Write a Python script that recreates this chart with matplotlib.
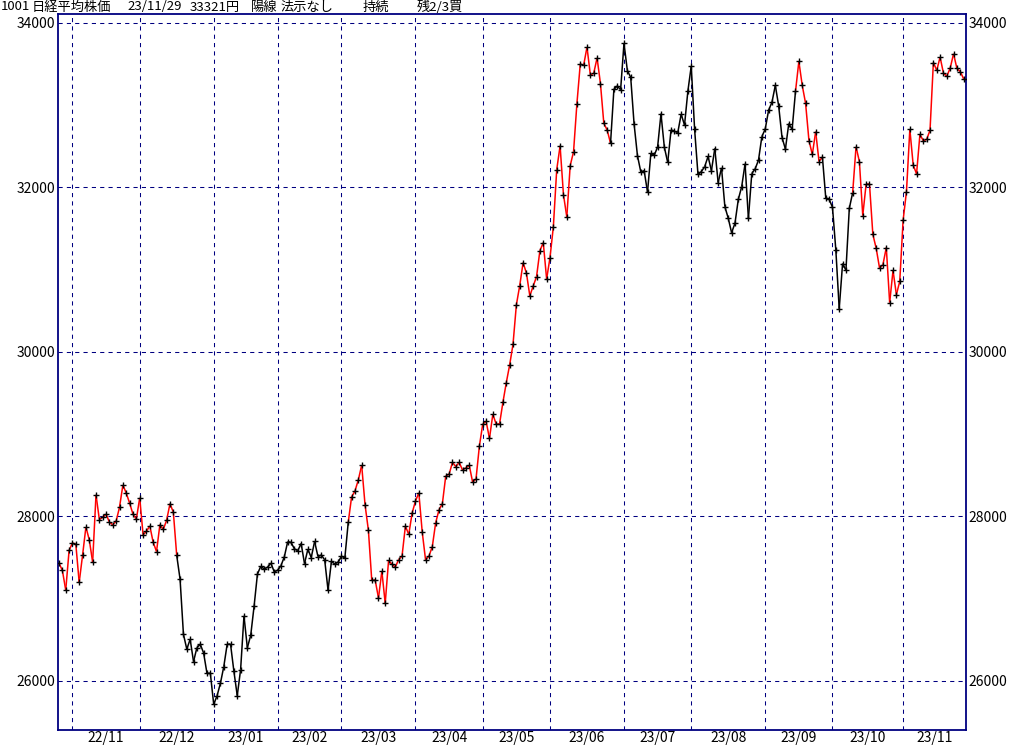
import matplotlib
matplotlib.use('Agg')
import matplotlib.pyplot as plt
import numpy as np
from matplotlib.collections import LineCollection

plt.rcParams['font.family'] = ['Noto Sans CJK JP', 'DejaVu Sans']

NAVY = '#000080'

# trading days per month and month labels (first block = last days of 22/10)
month_labels = ['', '22/11', '22/12', '23/01', '23/02', '23/03', '23/04',
                '23/05', '23/06', '23/07', '23/08', '23/09', '23/10', '23/11']
month_days = [4, 20, 22, 19, 19, 22, 20, 20, 22, 20, 22, 20, 21, 19]

# daily closes
closes = [
    27431, 27345, 27105, 27587,
    # 22/11
    27678, 27663, 27199, 27527, 27872, 27716, 27446, 28263, 27963, 27990,
    28028, 27930, 27899, 27944, 28115, 28383, 28283, 28162, 28027, 27968,
    # 22/12
    28226, 27777, 27820, 27885, 27686, 27574, 27901, 27842, 27954, 28156,
    28051, 27527, 27237, 26568, 26387, 26507, 26235, 26405, 26447, 26340,
    26093, 26094,
    # 23/01
    25717, 25820, 25973, 26175, 26446, 26449, 26119, 25822, 26138, 26791,
    26405, 26553, 26906, 27299, 27395, 27362, 27382, 27433, 27327,
    # 23/02
    27346, 27402, 27509, 27694, 27685, 27606, 27584, 27671, 27427, 27602,
    27501, 27696, 27513, 27531, 27473, 27104, 27453, 27423, 27445,
    # 23/03
    27516, 27498, 27927, 28237, 28309, 28444, 28623, 28143, 27832, 27222,
    27229, 27010, 27333, 26945, 27466, 27419, 27385, 27476, 27518, 27883,
    27782, 28041,
    # 23/04
    28188, 28287, 27813, 27472, 27518, 27633, 27923, 28082, 28156, 28493,
    28514, 28658, 28606, 28657, 28564, 28593, 28620, 28416, 28457, 28856,
    # 23/05
    29123, 29157, 28949, 29242, 29122, 29126, 29388, 29626, 29842, 30093,
    30573, 30808, 31086, 30957, 30682, 30801, 30916, 31233, 31328, 30887,
    # 23/06
    31148, 31524, 32217, 32506, 31913, 31641, 32265, 32434, 33018, 33502,
    33485, 33706, 33370, 33388, 33575, 33264, 32781, 32698, 32538, 33193,
    33234, 33189,
    # 23/07
    33753, 33422, 33338, 32773, 32388, 32189, 32203, 31943, 32419, 32391,
    32493, 32896, 32490, 32304, 32700, 32682, 32668, 32891, 32759, 33172,
    # 23/08
    33476, 32707, 32159, 32192, 32254, 32377, 32204, 32473, 32059, 32238,
    31766, 31626, 31450, 31565, 31856, 32010, 32287, 31624, 32169, 32226,
    32333, 32619,
    # 23/09
    32710, 32939, 33036, 33241, 32991, 32606, 32467, 32776, 32706, 33168,
    33533, 33242, 33023, 32571, 32402, 32678, 32315, 32371, 31872, 31857,
    # 23/10
    31759, 31237, 30526, 31075, 30994, 31746, 31936, 32494, 32315, 31659,
    32040, 32042, 31430, 31259, 31019, 31062, 31269, 30601, 30991, 30697,
    30858,
    # 23/11
    31601, 31950, 32708, 32272, 32166, 32646, 32568, 32585, 32695, 33519,
    33424, 33585, 33388, 33354, 33451, 33625, 33447, 33408, 33321,
]

# day ranges (start, end) where the line is drawn red
red_spans = [(0, 35), (86, 164), (219, 227), (236, 269)]

y_ticks = [26000, 28000, 30000, 32000, 34000]

header = [(1, '1001'), (32, '日経平均株価'), (127, '23/11/29'), (190, '33321円'),
          (251, '陽線'), (281, '法示なし'), (363, '持続'), (417, '残2/3買')]

x = np.arange(len(closes))
y = np.array(closes, dtype=float)

fig = plt.figure(figsize=(10.24, 7.45), dpi=100)
ax = fig.add_axes([58 / 1024, 1 - 730 / 745, 908 / 1024, 716 / 745])

pts = np.column_stack([x, y])
segs = np.stack([pts[:-1], pts[1:]], axis=1)
is_red = np.zeros(len(segs), dtype=bool)
for a, b in red_spans:
    is_red[a:b] = True
colors = np.where(is_red, '#ff0000', '#000000')
ax.add_collection(LineCollection(segs, colors=colors, linewidths=1.1, zorder=3))
ax.plot(x, y, linestyle='none', marker='+', ms=3.8, mew=1.0, color='black', zorder=4)

xlim = (-0.3, len(closes) - 0.3)
ax.set_xlim(*xlim)
ax.set_ylim(25404, 34109)

starts = np.concatenate([[0], np.cumsum(month_days)[:-1]])
grid_x = starts[1:]
ends = np.append(starts[2:], xlim[1])
mids = (grid_x + ends) / 2

ax.set_xticks(grid_x)
ax.set_xticks(mids, minor=True)
ax.set_xticklabels([])
ax.set_xticklabels(month_labels[1:], minor=True)
ax.tick_params(axis='x', which='both', length=0)
ax.tick_params(axis='x', which='minor', labelsize=10, pad=1)

ax.set_yticks(y_ticks)
ax.set_yticklabels([str(v) for v in y_ticks])
ax.tick_params(axis='y', length=0, labelsize=10, pad=2, labelright=True)

ax.grid(True, which='major', color=NAVY, linestyle=(0, (4, 4)), linewidth=0.75)
for s in ax.spines.values():
    s.set_color(NAVY)
    s.set_linewidth(1.3)

for px, t in header:
    fig.text(px / 1024, 1 - 0.5 / 745, t, ha='left', va='top', fontsize=9.5)

fig.savefig('out.png', dpi=100)
